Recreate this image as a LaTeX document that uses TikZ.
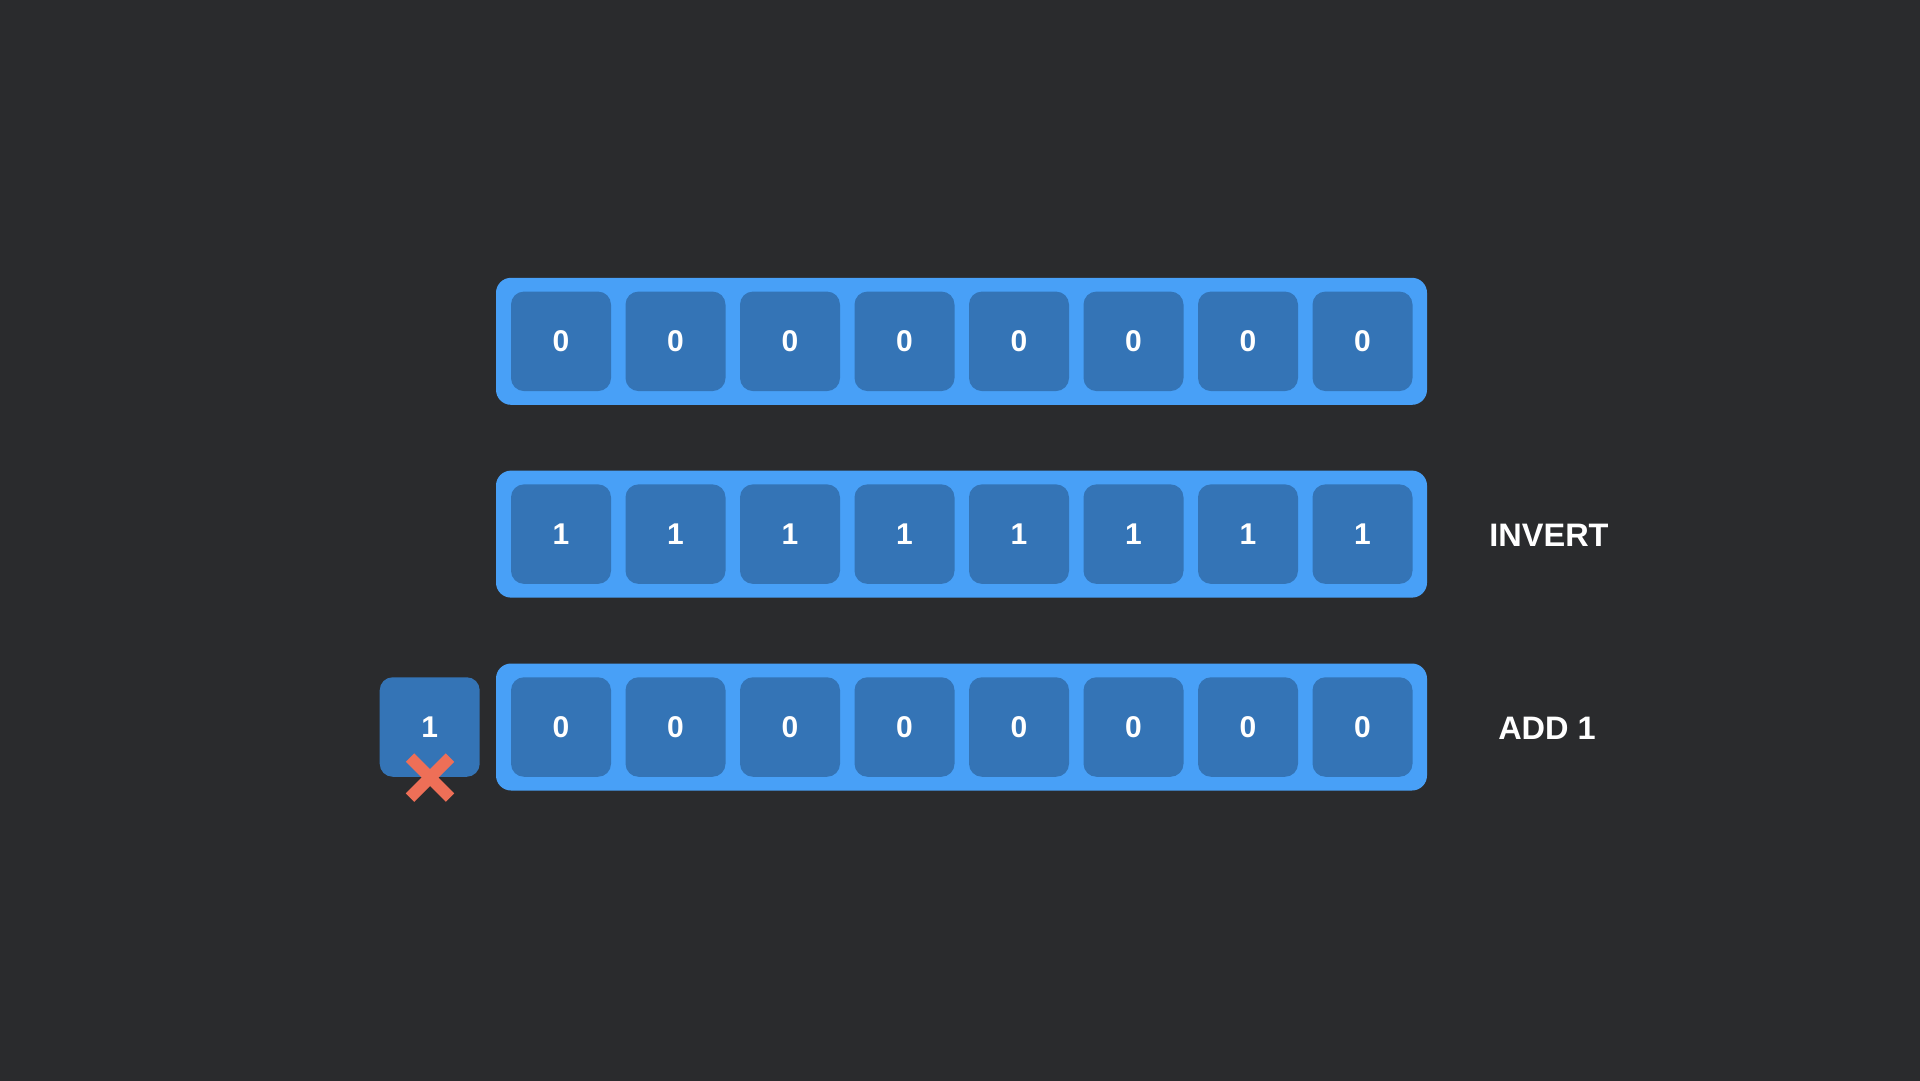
\documentclass[tikz,border=0pt]{standalone}
\usepackage{fontspec}
\setmainfont{Liberation Sans}
\definecolor{bgc}{HTML}{2A2B2D}
\definecolor{barc}{HTML}{48A0F7}
\definecolor{cellc}{HTML}{3474B6}
\definecolor{crossc}{HTML}{EE6F57}
\begin{document}
\begin{tikzpicture}[x=1pt,y=-1pt,
  barbox/.style={fill=barc,rounded corners=15pt,minimum width=931pt,minimum height=127pt,inner sep=0pt},
  cellbox/.style={fill=cellc,rounded corners=13pt,minimum width=100pt,minimum height=99.5pt,inner sep=0pt,
    text=white,font=\fontsize{30}{35}\selectfont\bfseries},
  lbl/.style={text=white,font=\fontsize{32.5}{38}\selectfont\bfseries,inner sep=0pt},
  crossline/.style={draw=crossc,line width=12pt,line cap=butt}]
\useasboundingbox (0,0) rectangle (1920,1080);
\fill[bgc] (-6,-6) rectangle (1926,1086);
\foreach \r/\y/\bits in {1/341.3/{0,0,0,0,0,0,0,0},2/534.1/{1,1,1,1,1,1,1,1},3/727.0/{0,0,0,0,0,0,0,0}}{
  \node[barbox] (bar\r) at (961.5,\y) {};
  \foreach \b [count=\i from 0] in \bits {
    \node[cellbox] (cell\r-\i) at (561+\i*114.5,\y) {\b};
  }
}
\node[cellbox] (carry) at (429.7,727.0) {1};
\coordinate (xc) at (430,777.5);
\draw[crossline] ([shift={(-20,-20)}]xc) -- ([shift={(20,20)}]xc);
\draw[crossline] ([shift={(20,-20)}]xc) -- ([shift={(-20,20)}]xc);
\node[lbl] (invert) at (1549,535) {INVERT};
\node[lbl] (add) at (1547,728) {ADD 1};
\end{tikzpicture}
\end{document}
